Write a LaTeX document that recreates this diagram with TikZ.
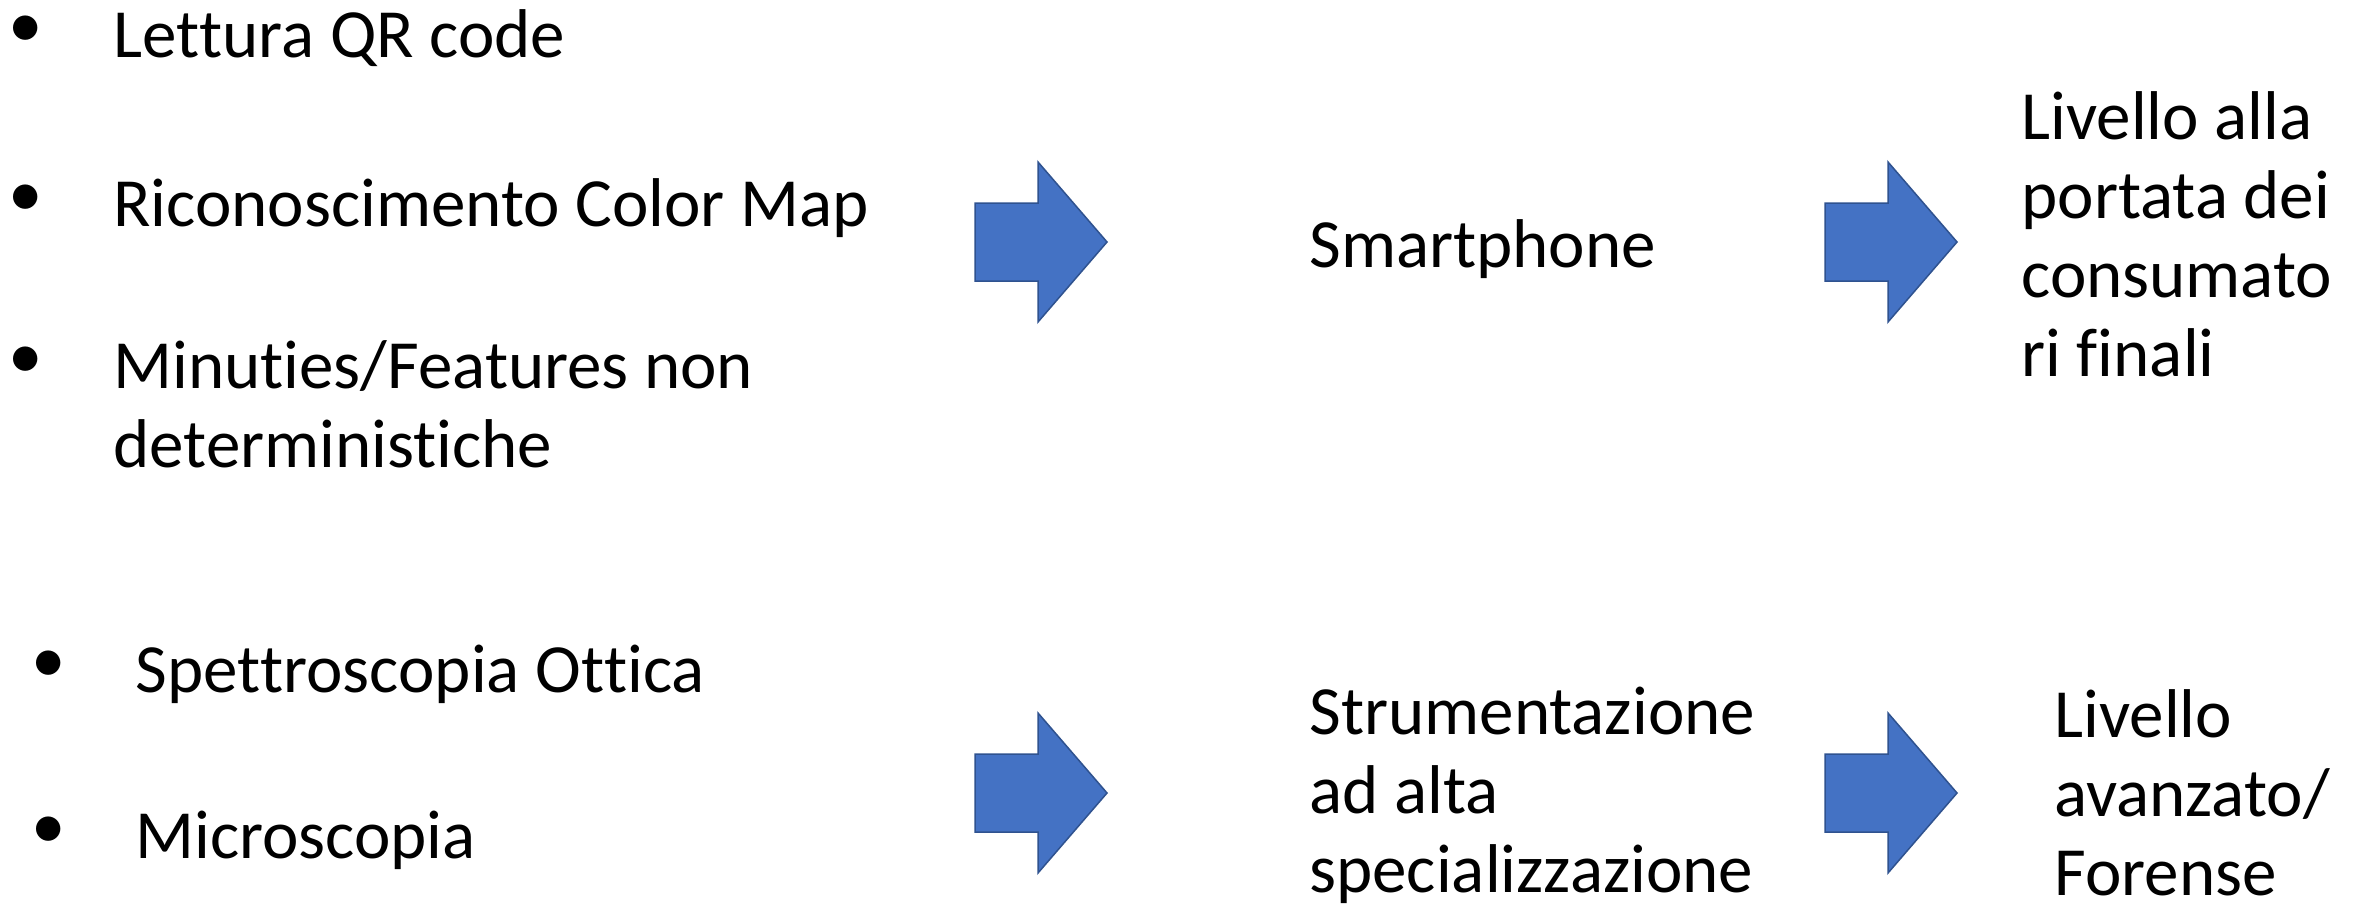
\documentclass[tikz,border=0pt]{standalone}
\usepackage{fontspec}
\setmainfont[Ligatures={NoCommon}]{Carlito}
% keep letter pairs such as t+i and f+i as separate glyphs
\newcommand{\nolig}{\kern0pt{}}
\begin{document}
\begin{tikzpicture}[x=0.5pt,y=-0.5pt,
  txt/.style={anchor=base west,inner sep=0pt,font=\fontsize{34.5pt}{39.5pt}\selectfont},
  dot/.style={anchor=center,inner sep=0pt,font=\fontsize{34.5pt}{39.5pt}\selectfont},
  blockarrow/.style={fill=arrowblue,draw=arrowedge,line width=0.75pt,line join=miter},
  pics/fatarrow/.style={code={
    \path[blockarrow] (0,-39) -- (63,-39) -- (63,-80) -- (132,0) -- (63,80)
      -- (63,39) -- (0,39) -- cycle;}}]
\definecolor{arrowblue}{HTML}{4472C4}
\definecolor{arrowedge}{HTML}{2F528F}
\useasboundingbox[fill=white] (0,0) rectangle (2359,910);

% consumer-level methods
\node[dot] (ba) at (26,32) {•};
\node[txt] (qr) at (113,57) {Let\nolig tura QR code};
\node[dot] (bb) at (26,201) {•};
\node[txt] (cm) at (113,226) {Riconoscimento Color Map};
\node[dot] (bc) at (26,363) {•};
\node[txt] (mf) at (113,388) {Minut\nolig ies/Features non};
\node[txt] (mf2) at (113,467) {determinist\nolig iche};

% advanced methods
\node[dot] (bd) at (49,667) {•};
\node[txt] (so) at (135,692) {Spet\nolig troscopia Ot\nolig t\nolig ica};
\node[dot] (be) at (49,833) {•};
\node[txt] (mi) at (135,858) {Microscopia};

% devices
\node[txt] (sm) at (1309,267) {Smartphone};
\node[txt] (st1) at (1309,734) {Strumentazione};
\node[txt] (st2) at (1309,813) {ad alta};
\node[txt] (st3) at (1309,892) {specializzazione};

% levels
\node[txt] (lv1) at (2021,139) {Livello alla};
\node[txt] (lv2) at (2021,218) {portata dei};
\node[txt] (lv3) at (2021,297) {consumato};
\node[txt] (lv4) at (2021,376) {ri f\nolig inali};
\node[txt] (fo1) at (2054,737) {Livello};
\node[txt] (fo2) at (2054,816) {avanzato/};
\node[txt] (fo3) at (2054,895) {Forense};

% block arrows
\pic at (975,242) {fatarrow};
\pic at (1825,242) {fatarrow};
\pic at (975,793) {fatarrow};
\pic at (1825,793) {fatarrow};
\end{tikzpicture}
\end{document}
